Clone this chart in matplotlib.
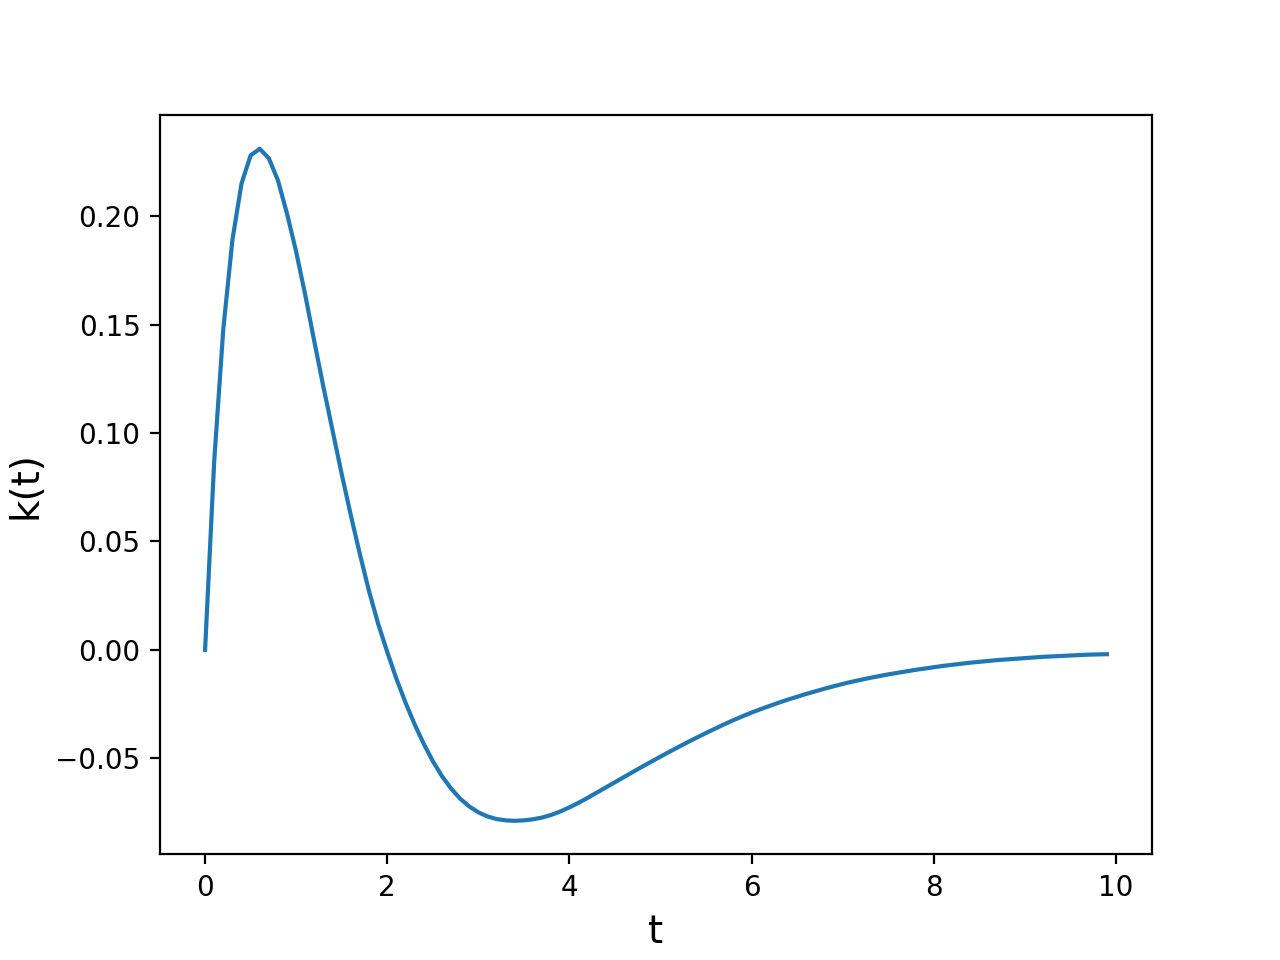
import numpy as np
import matplotlib
matplotlib.use('Agg')
import matplotlib.pyplot as plt

# sample grid, step 0.1 from 0 to 9.9
t = np.arange(0, 10, 0.1)

# k(t), one row per unit of t
k = [
    0.0, 0.087, 0.148, 0.189, 0.215, 0.228, 0.231, 0.2266, 0.2164, 0.201,
    0.1835, 0.1635, 0.142, 0.121, 0.101, 0.081, 0.062, 0.044, 0.027, 0.012,
    -0.001, -0.0133, -0.0243, -0.0343, -0.0433, -0.0513, -0.0582, -0.0639, -0.0686, -0.0722,
    -0.0749, -0.0768, -0.0780, -0.0786, -0.0788, -0.0786, -0.0781, -0.0773, -0.0761, -0.0745,
    -0.0726, -0.0705, -0.0682, -0.0658, -0.0634, -0.0610, -0.0586, -0.0562, -0.0538, -0.0515,
    -0.0492, -0.0469, -0.0447, -0.0425, -0.0404, -0.0383, -0.0363, -0.0343, -0.0324, -0.0306,
    -0.0289, -0.0273, -0.0258, -0.0243, -0.0229, -0.0216, -0.0203, -0.0191, -0.0179, -0.0168,
    -0.0157, -0.0147, -0.0138, -0.0129, -0.0121, -0.0113, -0.0106, -0.0099, -0.0092, -0.0086,
    -0.0080, -0.0074, -0.0069, -0.0064, -0.0059, -0.0055, -0.0051, -0.0047, -0.0044, -0.0041,
    -0.0038, -0.0035, -0.0032, -0.0030, -0.0028, -0.0026, -0.0024, -0.0022, -0.0021, -0.0020,
]

fig, ax = plt.subplots(figsize=(6.4, 4.8), dpi=200)
ax.plot(t, k)
ax.set_xlabel('t', fontsize=14)
ax.set_ylabel('k(t)', fontsize=14)
plt.savefig('out.png', dpi=200)
